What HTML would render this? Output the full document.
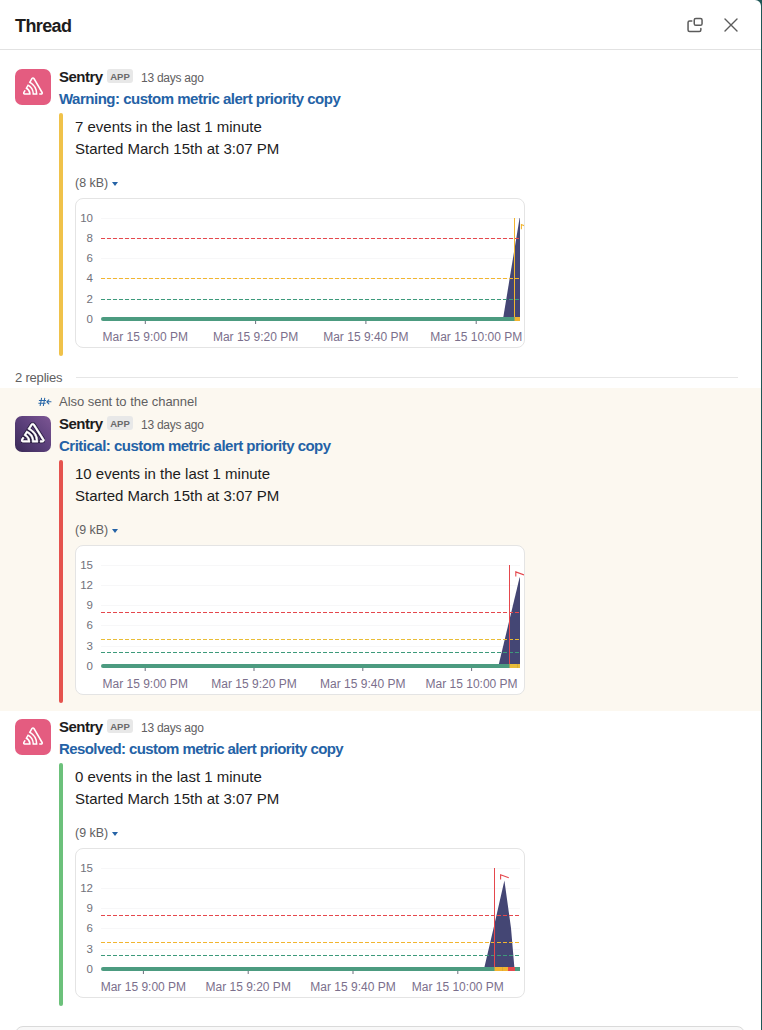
<!DOCTYPE html><html><head><meta charset="utf-8"><style>
*{margin:0;padding:0;box-sizing:border-box}
html,body{width:762px;height:1030px;overflow:hidden;background:#fff}
body{font-family:"Liberation Sans",sans-serif;color:#1d1c1d;position:relative}
svg text{font-family:"Liberation Sans",sans-serif}
.abs{position:absolute;white-space:nowrap}
#frame{position:absolute;left:761px;top:0;width:1px;height:1030px;background:#1f5757}
#corner{position:absolute;left:750px;top:0;width:12px;height:12px;overflow:hidden}
#corner:before{content:"";position:absolute;left:0;top:0;width:11px;height:12px;border-top-right-radius:6px;box-shadow:0 0 0 10px #1f5757}
.hdr{left:15px;top:14px;font-size:18px;font-weight:bold;letter-spacing:-0.6px;line-height:24px}
.hline{left:0;top:49px;width:761px;height:1px;background:#e2e2e2}
.msg{position:absolute;left:0;width:761px;height:300px}
.av{position:absolute;left:15px;top:69px;width:36px;height:36px;border-radius:7px}
.av svg{position:absolute;left:8px;top:7px}
.name{left:59px;top:67px;font-size:15px;font-weight:bold;letter-spacing:-0.5px;line-height:20px}
.badge{position:absolute;left:107px;top:69px;width:26px;height:14px;background:#e8e8e8;border-radius:3px;color:#6a6a6a;font-size:9.5px;font-weight:bold;line-height:16px;text-align:center;letter-spacing:0px}
.time{left:141px;top:70px;font-size:12px;letter-spacing:-0.25px;color:#616061;line-height:16px}
.link{left:59px;top:89px;font-size:15px;font-weight:bold;color:#2462a6;letter-spacing:-0.47px;line-height:20px}
.bar{position:absolute;left:59px;top:113px;width:4px;height:243px;border-radius:2px}
.t1{left:75px;top:117px;font-size:15px;line-height:20px}
.t2{left:75px;top:139px;font-size:15px;line-height:20px}
.kb{left:75px;top:175px;font-size:12.4px;color:#616061;line-height:16px}
.kb i{display:inline-block;width:0;height:0;border-left:3.6px solid transparent;border-right:3.6px solid transparent;border-top:4.8px solid #2563a6;margin-left:0px;vertical-align:1.5px}
.chart{position:absolute;left:75px;top:198px;width:450px;height:150px;border:1px solid #e4e4e4;border-radius:8px;background:#fff;overflow:hidden}
.chart svg{position:absolute;left:-1px;top:-1px}
.replies{left:15px;top:370px;font-size:13px;letter-spacing:-0.2px;color:#616061;line-height:16px}
.rline{left:76px;top:377px;width:662px;height:1px;background:#e6e6e6}
.hl{left:0;top:388px;width:761px;height:323px;background:#fcf8f0}
.also{left:38px;top:393.5px;font-size:13px;letter-spacing:-0.03px;color:#616061;line-height:16px}
.also .hash{position:absolute;left:0;top:3px}.also span{position:absolute;left:21px;top:0}
.composer{left:15px;top:1026px;width:730px;height:40px;border:1px solid #dadada;border-radius:8px;background:#f8f8f8}

</style></head><body>
<div id="frame"></div><div id="corner"></div>
<div class="abs hdr">Thread</div><div class="abs hline"></div>
<svg class="abs" style="left:682px;top:13px" width="26" height="24" viewBox="0 0 26 24"><path d="M9.8 8 H7.6 Q6.05 8 6.05 9.55 V17 Q6.05 18.55 7.6 18.55 H17.3 Q18.85 18.55 18.85 17 V15.5" fill="none" stroke="#5b5b5b" stroke-width="1.5" stroke-linecap="round"/><rect x="12.25" y="5.4" width="7.8" height="6.9" rx="1.6" fill="none" stroke="#5b5b5b" stroke-width="1.5"/></svg>
<svg class="abs" style="left:720px;top:14px" width="22" height="22" viewBox="0 0 22 22"><path d="M5 5.1 L17 16.9 M17 5.1 L5 16.9" stroke="#5b5b5b" stroke-width="1.4" stroke-linecap="round"/></svg>
<div class="abs hl"></div>
<div class="abs replies">2 replies</div><div class="abs rline"></div>
<div class="abs also"><svg class="hash" width="14" height="10" viewBox="0 0 14 10"><path d="M3.6 0.8 L2.1 9 M6.8 0.8 L5.3 9 M0.9 3.4 H8.1 M0.4 6.3 H7.6" stroke="#2a68a8" stroke-width="1.05" fill="none"/><path d="M13 4.8 H8.8 M10.8 2.8 L8.8 4.8 L10.8 6.8" stroke="#2a68a8" stroke-width="1.1" fill="none" stroke-linecap="round" stroke-linejoin="round"/></svg><span>Also sent to the channel</span></div>
<div class="msg" style="top:0px">
<div class="av" style="background:#e45c80"><svg width="20" height="20" viewBox="0 0 24 24"><path fill="#fff" d="M13.91 2.505c-.873-1.448-2.972-1.448-3.844 0L6.904 7.92a15.478 15.478 0 0 1 8.53 12.811h-2.221A13.301 13.301 0 0 0 5.784 9.814l-2.926 5.06a7.65 7.65 0 0 1 4.435 5.848H2.194a.365.365 0 0 1-.298-.534l1.413-2.402a5.16 5.16 0 0 0-1.614-.913L.296 19.275a2.182 2.182 0 0 0 .812 2.999 2.24 2.24 0 0 0 1.086.288h6.983a9.322 9.322 0 0 0-3.845-8.318l1.11-1.922a11.47 11.47 0 0 1 4.95 10.24h5.915a17.242 17.242 0 0 0-7.885-15.28l2.244-3.845a.37.37 0 0 1 .504-.13c.255.14 9.75 16.708 9.928 16.9a.365.365 0 0 1-.327.543h-2.287c.029.612.029 1.223 0 1.831h2.297a2.206 2.206 0 0 0 1.922-3.31z"/></svg></div>
<div class="abs name">Sentry</div><div class="badge">APP</div><div class="abs time">13 days ago</div>
<div class="abs link" style="letter-spacing:-0.494px">Warning: custom metric alert priority copy</div>
<div class="bar" style="background:#f0c24a"></div>
<div class="abs t1">7 events in the last 1 minute</div><div class="abs t2">Started March 15th at 3:07 PM</div>
<div class="abs kb">(8 kB) <i></i></div>
<div class="chart"><svg width="450" height="150" viewBox="0 0 450 150"><text x="18" y="124.90" text-anchor="end" font-size="11.5" fill="#71717a">0</text><rect x="26" y="101" width="419" height="1" fill="#f7f7f8"/><text x="18" y="104.90" text-anchor="end" font-size="11.5" fill="#71717a">2</text><rect x="26" y="80" width="419" height="1" fill="#f7f7f8"/><text x="18" y="83.90" text-anchor="end" font-size="11.5" fill="#71717a">4</text><rect x="26" y="60" width="419" height="1" fill="#f7f7f8"/><text x="18" y="63.90" text-anchor="end" font-size="11.5" fill="#71717a">6</text><rect x="26" y="40" width="419" height="1" fill="#f7f7f8"/><text x="18" y="43.90" text-anchor="end" font-size="11.5" fill="#71717a">8</text><rect x="26" y="20" width="419" height="1" fill="#f7f7f8"/><text x="18" y="23.90" text-anchor="end" font-size="11.5" fill="#71717a">10</text><polygon points="428.00,121.00 444.60,20.00 445.00,20.00 445.00,121.00" fill="#444674"/><line x1="26" x2="445" y1="40.5" y2="40.5" stroke="#e5484d" stroke-width="1" stroke-dasharray="4 2"/><line x1="26" x2="445" y1="80.5" y2="80.5" stroke="#f2b530" stroke-width="1" stroke-dasharray="4 2"/><line x1="26" x2="445" y1="101.5" y2="101.5" stroke="#3d9a7b" stroke-width="1" stroke-dasharray="4 2"/><rect x="26" y="119" width="419" height="4" rx="2" fill="#4c9b80"/><rect x="29" y="119" width="416" height="4" fill="#4c9b80"/><rect x="439.50" y="119" width="5.50" height="4" fill="#f2b530"/><rect x="439.00" y="20" width="1" height="99" fill="#f2b530"/><path d="M446.40 31.20 V26.60 L454.60 29.60" fill="none" stroke="#f2b530" stroke-width="1.1"/><rect x="69.80" y="123" width="1" height="3" fill="#6e6e7e"/><text x="70.30" y="143" text-anchor="middle" font-size="12" fill="#7b6f8c">Mar 15 9:00 PM</text><rect x="180.10" y="123" width="1" height="3" fill="#6e6e7e"/><text x="180.60" y="143" text-anchor="middle" font-size="12" fill="#7b6f8c">Mar 15 9:20 PM</text><rect x="290.40" y="123" width="1" height="3" fill="#6e6e7e"/><text x="290.90" y="143" text-anchor="middle" font-size="12" fill="#7b6f8c">Mar 15 9:40 PM</text><rect x="400.70" y="123" width="1" height="3" fill="#6e6e7e"/><text x="401.20" y="143" text-anchor="middle" font-size="12" fill="#7b6f8c">Mar 15 10:00 PM</text></svg></div>
</div>
<div class="msg" style="top:347px">
<div class="av" style="background:linear-gradient(225deg,#7d5694 0%,#5a3f7a 50%,#3a2a57 100%)"><svg style="left:6.3px;top:6px" width="23.5" height="21.5" viewBox="0 0 24 24" preserveAspectRatio="none"><path fill="none" stroke="#22163a" stroke-width="2.3" stroke-linejoin="round" d="M13.91 2.505c-.873-1.448-2.972-1.448-3.844 0L6.904 7.92a15.478 15.478 0 0 1 8.53 12.811h-2.221A13.301 13.301 0 0 0 5.784 9.814l-2.926 5.06a7.65 7.65 0 0 1 4.435 5.848H2.194a.365.365 0 0 1-.298-.534l1.413-2.402a5.16 5.16 0 0 0-1.614-.913L.296 19.275a2.182 2.182 0 0 0 .812 2.999 2.24 2.24 0 0 0 1.086.288h6.983a9.322 9.322 0 0 0-3.845-8.318l1.11-1.922a11.47 11.47 0 0 1 4.95 10.24h5.915a17.242 17.242 0 0 0-7.885-15.28l2.244-3.845a.37.37 0 0 1 .504-.13c.255.14 9.75 16.708 9.928 16.9a.365.365 0 0 1-.327.543h-2.287c.029.612.029 1.223 0 1.831h2.297a2.206 2.206 0 0 0 1.922-3.31z"/><path fill="#fff" stroke="#fff" stroke-width="0.6" stroke-linejoin="round" d="M13.91 2.505c-.873-1.448-2.972-1.448-3.844 0L6.904 7.92a15.478 15.478 0 0 1 8.53 12.811h-2.221A13.301 13.301 0 0 0 5.784 9.814l-2.926 5.06a7.65 7.65 0 0 1 4.435 5.848H2.194a.365.365 0 0 1-.298-.534l1.413-2.402a5.16 5.16 0 0 0-1.614-.913L.296 19.275a2.182 2.182 0 0 0 .812 2.999 2.24 2.24 0 0 0 1.086.288h6.983a9.322 9.322 0 0 0-3.845-8.318l1.11-1.922a11.47 11.47 0 0 1 4.95 10.24h5.915a17.242 17.242 0 0 0-7.885-15.28l2.244-3.845a.37.37 0 0 1 .504-.13c.255.14 9.75 16.708 9.928 16.9a.365.365 0 0 1-.327.543h-2.287c.029.612.029 1.223 0 1.831h2.297a2.206 2.206 0 0 0 1.922-3.31z"/></svg></div>
<div class="abs name">Sentry</div><div class="badge">APP</div><div class="abs time">13 days ago</div>
<div class="abs link" style="letter-spacing:-0.507px">Critical: custom metric alert priority copy</div>
<div class="bar" style="background:#e5534e"></div>
<div class="abs t1">10 events in the last 1 minute</div><div class="abs t2">Started March 15th at 3:07 PM</div>
<div class="abs kb">(9 kB) <i></i></div>
<div class="chart"><svg width="450" height="150" viewBox="0 0 450 150"><text x="18" y="124.90" text-anchor="end" font-size="11.5" fill="#71717a">0</text><rect x="26" y="101" width="419" height="1" fill="#f7f7f8"/><text x="18" y="104.90" text-anchor="end" font-size="11.5" fill="#71717a">3</text><rect x="26" y="80" width="419" height="1" fill="#f7f7f8"/><text x="18" y="83.90" text-anchor="end" font-size="11.5" fill="#71717a">6</text><rect x="26" y="60" width="419" height="1" fill="#f7f7f8"/><text x="18" y="63.90" text-anchor="end" font-size="11.5" fill="#71717a">9</text><rect x="26" y="40" width="419" height="1" fill="#f7f7f8"/><text x="18" y="43.90" text-anchor="end" font-size="11.5" fill="#71717a">12</text><rect x="26" y="20" width="419" height="1" fill="#f7f7f8"/><text x="18" y="23.90" text-anchor="end" font-size="11.5" fill="#71717a">15</text><polygon points="423.40,121.00 444.60,32.46 445.00,32.46 445.00,121.00" fill="#444674"/><line x1="26" x2="445" y1="67.5" y2="67.5" stroke="#e5484d" stroke-width="1" stroke-dasharray="4 2"/><line x1="26" x2="445" y1="94.5" y2="94.5" stroke="#e9bd36" stroke-width="1" stroke-dasharray="4 2"/><line x1="26" x2="445" y1="107.5" y2="107.5" stroke="#3d9a7b" stroke-width="1" stroke-dasharray="4 2"/><rect x="26" y="119" width="419" height="4" rx="2" fill="#4c9b80"/><rect x="29" y="119" width="416" height="4" fill="#4c9b80"/><rect x="434.50" y="119" width="10.50" height="4" fill="#e8bd3a"/><rect x="442.00" y="119" width="0.6" height="4" fill="#b59a3a" opacity="0.6"/><rect x="434.00" y="20" width="1" height="99" fill="#e5484d"/><path d="M440.80 31.50 V26.90 L449.00 29.90" fill="none" stroke="#e5484d" stroke-width="1.1"/><rect x="69.70" y="123" width="1" height="3" fill="#6e6e7e"/><text x="70.20" y="143" text-anchor="middle" font-size="12" fill="#7b6f8c">Mar 15 9:00 PM</text><rect x="178.50" y="123" width="1" height="3" fill="#6e6e7e"/><text x="179.00" y="143" text-anchor="middle" font-size="12" fill="#7b6f8c">Mar 15 9:20 PM</text><rect x="287.30" y="123" width="1" height="3" fill="#6e6e7e"/><text x="287.80" y="143" text-anchor="middle" font-size="12" fill="#7b6f8c">Mar 15 9:40 PM</text><rect x="396.10" y="123" width="1" height="3" fill="#6e6e7e"/><text x="396.60" y="143" text-anchor="middle" font-size="12" fill="#7b6f8c">Mar 15 10:00 PM</text></svg></div>
</div>
<div class="msg" style="top:650px">
<div class="av" style="background:#e45c80"><svg width="20" height="20" viewBox="0 0 24 24"><path fill="#fff" d="M13.91 2.505c-.873-1.448-2.972-1.448-3.844 0L6.904 7.92a15.478 15.478 0 0 1 8.53 12.811h-2.221A13.301 13.301 0 0 0 5.784 9.814l-2.926 5.06a7.65 7.65 0 0 1 4.435 5.848H2.194a.365.365 0 0 1-.298-.534l1.413-2.402a5.16 5.16 0 0 0-1.614-.913L.296 19.275a2.182 2.182 0 0 0 .812 2.999 2.24 2.24 0 0 0 1.086.288h6.983a9.322 9.322 0 0 0-3.845-8.318l1.11-1.922a11.47 11.47 0 0 1 4.95 10.24h5.915a17.242 17.242 0 0 0-7.885-15.28l2.244-3.845a.37.37 0 0 1 .504-.13c.255.14 9.75 16.708 9.928 16.9a.365.365 0 0 1-.327.543h-2.287c.029.612.029 1.223 0 1.831h2.297a2.206 2.206 0 0 0 1.922-3.31z"/></svg></div>
<div class="abs name">Sentry</div><div class="badge">APP</div><div class="abs time">13 days ago</div>
<div class="abs link" style="letter-spacing:-0.586px">Resolved: custom metric alert priority copy</div>
<div class="bar" style="background:#6cc17b"></div>
<div class="abs t1">0 events in the last 1 minute</div><div class="abs t2">Started March 15th at 3:07 PM</div>
<div class="abs kb">(9 kB) <i></i></div>
<div class="chart"><svg width="450" height="150" viewBox="0 0 450 150"><text x="18" y="124.90" text-anchor="end" font-size="11.5" fill="#71717a">0</text><rect x="26" y="101" width="419" height="1" fill="#f7f7f8"/><text x="18" y="104.90" text-anchor="end" font-size="11.5" fill="#71717a">3</text><rect x="26" y="80" width="419" height="1" fill="#f7f7f8"/><text x="18" y="83.90" text-anchor="end" font-size="11.5" fill="#71717a">6</text><rect x="26" y="60" width="419" height="1" fill="#f7f7f8"/><text x="18" y="63.90" text-anchor="end" font-size="11.5" fill="#71717a">9</text><rect x="26" y="40" width="419" height="1" fill="#f7f7f8"/><text x="18" y="43.90" text-anchor="end" font-size="11.5" fill="#71717a">12</text><rect x="26" y="20" width="419" height="1" fill="#f7f7f8"/><text x="18" y="23.90" text-anchor="end" font-size="11.5" fill="#71717a">15</text><polygon points="409.00,121.00 418.60,79.93 429.40,32.46 436.00,79.93 439.50,121.00" fill="#444674"/><line x1="26" x2="445" y1="67.5" y2="67.5" stroke="#e5484d" stroke-width="1" stroke-dasharray="4 2"/><line x1="26" x2="445" y1="94.5" y2="94.5" stroke="#f2b530" stroke-width="1" stroke-dasharray="4 2"/><line x1="26" x2="445" y1="107.5" y2="107.5" stroke="#3d9a7b" stroke-width="1" stroke-dasharray="4 2"/><rect x="26" y="119" width="419" height="4" rx="2" fill="#4c9b80"/><rect x="29" y="119" width="416" height="4" fill="#4c9b80"/><rect x="419.50" y="119" width="13.50" height="4" fill="#f2b530"/><rect x="433.00" y="119" width="7.00" height="4" fill="#e5484d"/><rect x="427.00" y="119" width="0.6" height="4" fill="#b59a3a" opacity="0.6"/><rect x="419.00" y="20" width="1" height="99" fill="#e5484d"/><path d="M425.60 31.40 V26.80 L433.80 29.80" fill="none" stroke="#e5484d" stroke-width="1.1"/><rect x="67.90" y="123" width="1" height="3" fill="#6e6e7e"/><text x="68.40" y="143" text-anchor="middle" font-size="12" fill="#7b6f8c">Mar 15 9:00 PM</text><rect x="172.70" y="123" width="1" height="3" fill="#6e6e7e"/><text x="173.20" y="143" text-anchor="middle" font-size="12" fill="#7b6f8c">Mar 15 9:20 PM</text><rect x="277.50" y="123" width="1" height="3" fill="#6e6e7e"/><text x="278.00" y="143" text-anchor="middle" font-size="12" fill="#7b6f8c">Mar 15 9:40 PM</text><rect x="382.30" y="123" width="1" height="3" fill="#6e6e7e"/><text x="382.80" y="143" text-anchor="middle" font-size="12" fill="#7b6f8c">Mar 15 10:00 PM</text></svg></div>
</div>
<div class="composer abs"></div>
</body></html>
